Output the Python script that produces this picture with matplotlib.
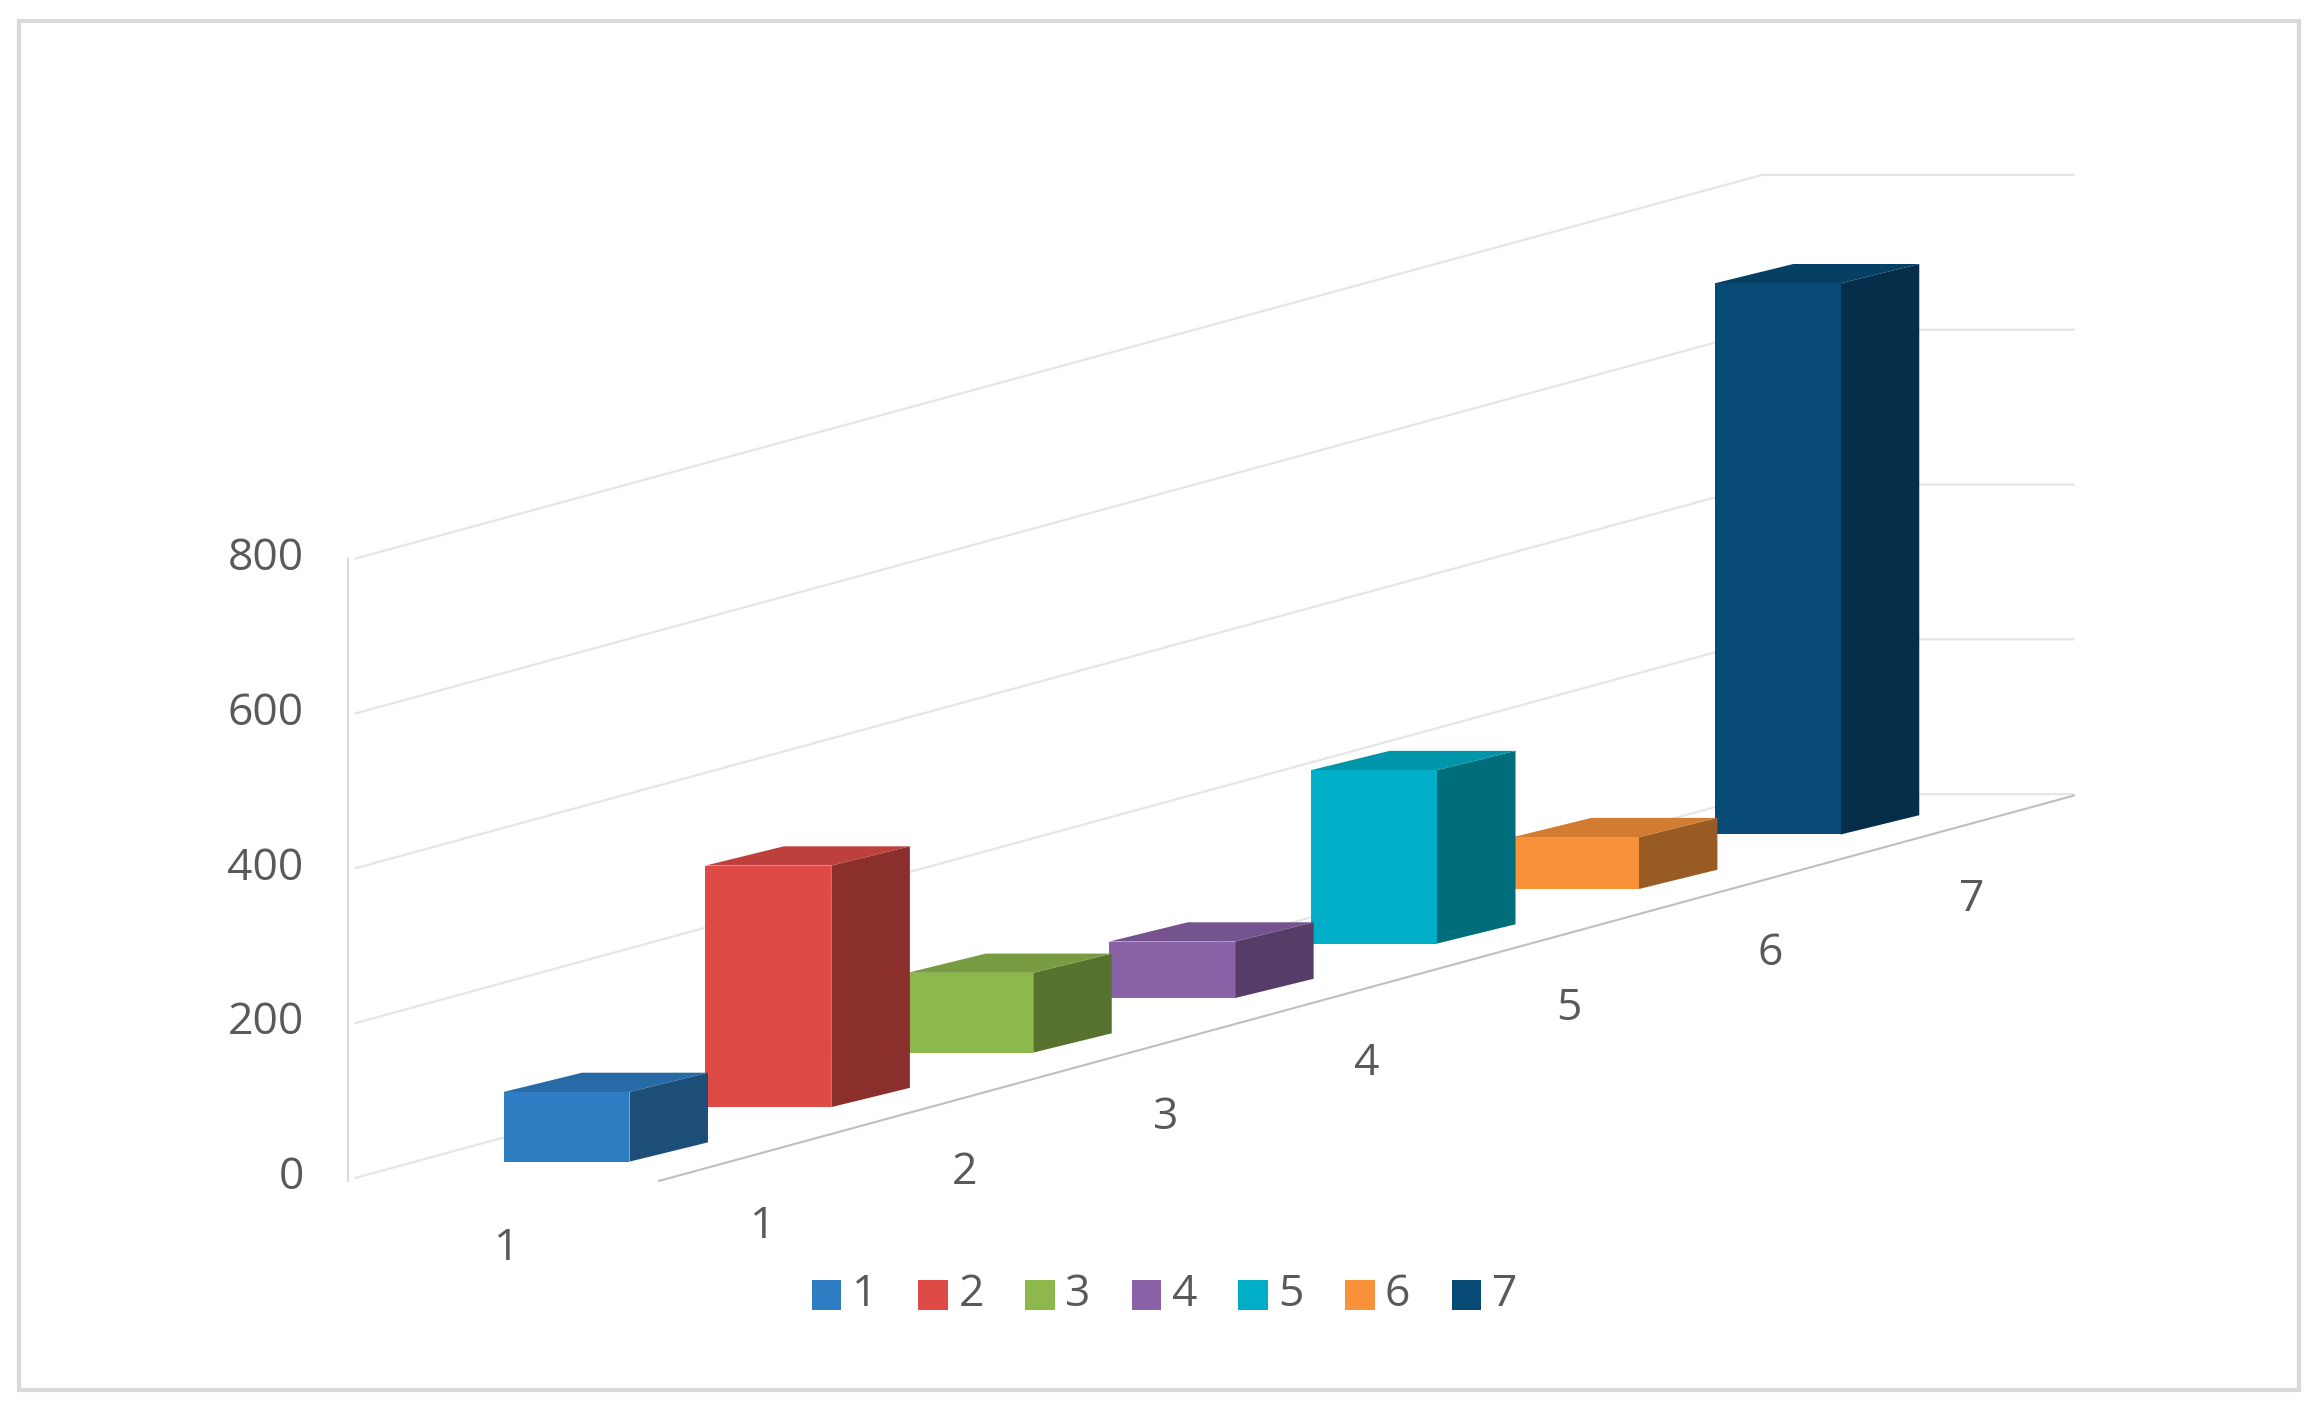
import matplotlib; matplotlib.use("Agg")
import matplotlib.pyplot as plt
from matplotlib.patches import Polygon, Rectangle
import matplotlib.colors as mc

# data
series = ["1", "2", "3", "4", "5", "6", "7"]
values = [90, 312, 103, 73, 224, 67, 712]
colors = ["#2E7DC2", "#DE4B47", "#8CB84C", "#8A62A8", "#00AFC7", "#F7923A", "#064A75"]
yticks = [0, 200, 400, 600, 800]

# oblique projection (picture coords, 1565 x 955 grid)
S = 0.5225            # px per unit
X0, YB = 340, 784     # front face of first series
DX, DY = 136.3, -36.8 # step per series in depth
W, OX, OY = 85, 53, -13
GRAY = "#595959"

fig = plt.figure(figsize=(23.18, 14.15), dpi=100)
ax = fig.add_axes([0, 0, 1, 1])
ax.set_xlim(0, 1565); ax.set_ylim(955, 0); ax.axis("off")
ax.add_patch(Rectangle((13, 14), 1539, 924, fill=False, ec="#D9D9D9", lw=3))

# walls / gridlines
for v in yticks:
    y = 795 - S * v
    ax.plot([240, 1190, 1400], [y, y - 259, y - 259], color="#E4E4E4", lw=1.5, zorder=1)
    ax.text(205, y, str(v), ha="right", va="center", fontsize=32, color=GRAY, family="Open Sans")
ax.plot([235, 235], [377, 797], color="#D9D9D9", lw=1.5, zorder=1)
ax.plot([445, 1400], [797, 537], color="#BFBFBF", lw=1.5, zorder=1)

def shade(c, f):
    r, g, b = mc.to_rgb(c)
    return (r * f, g * f, b * f)

for k in range(len(values) - 1, -1, -1):
    x0, yb, h = X0 + k * DX, YB + k * DY, values[k] * S
    c = colors[k]
    ax.add_patch(Polygon([(x0 + W, yb), (x0 + W, yb - h), (x0 + W + OX, yb - h + OY), (x0 + W + OX, yb + OY)],
                         fc=shade(c, 0.62), ec="none", zorder=3))
    ax.add_patch(Polygon([(x0, yb - h), (x0 + W, yb - h), (x0 + W + OX, yb - h + OY), (x0 + OX, yb - h + OY)],
                         fc=shade(c, 0.85), ec="none", zorder=3))
    ax.add_patch(Rectangle((x0, yb - h), W, h, fc=c, ec="none", zorder=3))
    ax.text(515 + k * 136, 828 + k * DY, series[k], ha="center", va="center",
            fontsize=32, color=GRAY, family="Open Sans")

ax.text(342, 843, "1", ha="center", va="center", fontsize=32, color=GRAY, family="Open Sans")

# legend
lx = 548
for s, c in zip(series, colors):
    ax.add_patch(Rectangle((lx, 864), 20, 20, fc=c, ec="none"))
    ax.text(lx + 27, 874, s, ha="left", va="center", fontsize=32, color=GRAY, family="Open Sans")
    lx += 72

fig.savefig("out.png", dpi=100)
